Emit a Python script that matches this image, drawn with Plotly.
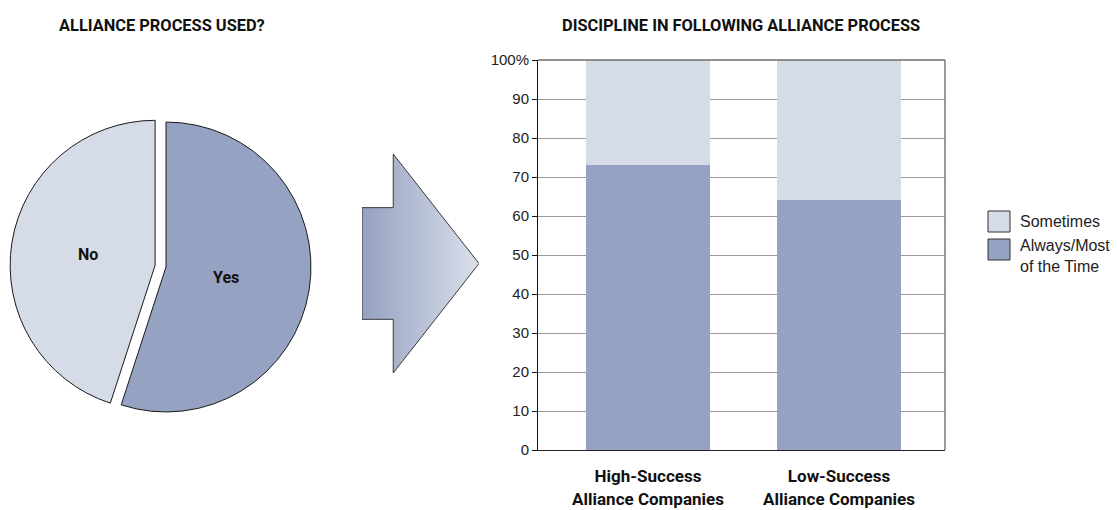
import plotly.graph_objects as go

# --- data -------------------------------------------------------------
pie_labels = ["Yes", "No"]
pie_values = [55, 45]

groups = ["High-Success<br>Alliance Companies", "Low-Success<br>Alliance Companies"]
always_most = [73, 64]
sometimes = [27, 36]

y_ticks = [0, 10, 20, 30, 40, 50, 60, 70, 80, 90, 100]
y_tick_text = ["0", "10", "20", "30", "40", "50", "60", "70", "80", "90", "100%"]

# arrow outline in its own unit box (x right, y down)
arrow_x = [0, 0.267, 0.267, 1, 0.267, 0.267, 0, 0]
arrow_y = [0.245, 0.245, 0, 0.5, 1, 0.755, 0.755, 0.245]

# --- styling ----------------------------------------------------------
W, H = 1118, 510
DARK = "#96a2c2"
LIGHT = "#d5dbe7"
COND = "Roboto, Liberation Sans, sans-serif"
BODY = "Liberation Sans, Arial, sans-serif"


def px_x(v):
    return v / W


def px_y(v):
    return 1 - v / H


fig = go.Figure()

# pie: alliance process used?
fig.add_trace(go.Pie(
    labels=pie_labels,
    values=pie_values,
    sort=False,
    direction="clockwise",
    rotation=0,
    pull=[0, 0.076],
    marker=dict(colors=[DARK, LIGHT], line=dict(color="#1a1a1a", width=1)),
    textinfo="none",
    domain=dict(x=[px_x(10), px_x(322)], y=[px_y(424), px_y(110)]),
    showlegend=False,
    hoverinfo="label+percent",
))

# slice names, set inside each wedge
label_pos = {"Yes": (226, 277), "No": (88, 254)}
for name in pie_labels:
    lx, ly = label_pos[name]
    fig.add_annotation(xref="paper", yref="paper", x=px_x(lx), y=px_y(ly),
                       xanchor="center", yanchor="middle", showarrow=False,
                       text=name,
                       font=dict(family=COND, size=16, color="#111111", weight="bold"))

# stacked bars: discipline in following the process
fig.add_trace(go.Bar(
    x=[0, 1], y=always_most, name="Always/Most of the Time",
    marker=dict(color=DARK, line=dict(width=0)), width=0.65,
    showlegend=False,
))
fig.add_trace(go.Bar(
    x=[0, 1], y=sometimes, name="Sometimes",
    marker=dict(color=LIGHT, line=dict(width=0)), width=0.65,
    showlegend=False,
))

# gradient arrow between the two panels
fig.add_trace(go.Scatter(
    x=arrow_x, y=arrow_y, mode="lines", fill="toself",
    fillgradient=dict(type="horizontal",
                      colorscale=[[0, "#95a1c1"], [1, "#dadfea"]]),
    line=dict(color="#3a3a3a", width=1),
    xaxis="x2", yaxis="y2", showlegend=False, hoverinfo="skip",
))

fig.update_layout(
    width=W, height=H, autosize=False,
    margin=dict(l=0, r=0, t=0, b=0, pad=0, autoexpand=False),
    paper_bgcolor="white", plot_bgcolor="white",
    barmode="stack",
    xaxis=dict(
        domain=[px_x(538), px_x(945)],
        range=[-0.576, 1.555],
        tickvals=[0, 1], ticktext=groups,
        tickfont=dict(family=COND, size=17, color="#111111", weight="bold"),
        showline=True, linecolor="#222222", linewidth=1,
        showgrid=False, zeroline=False, ticks="",
        ticklabelstandoff=11, automargin=False,
        fixedrange=True,
    ),
    yaxis=dict(
        domain=[px_y(450), px_y(60)],
        range=[0, 100],
        tickvals=y_ticks, ticktext=y_tick_text,
        tickfont=dict(family=BODY, size=15, color="#222222"),
        showline=True, linecolor="#111111", linewidth=1,
        ticks="outside", ticklen=5, tickcolor="#111111",
        showgrid=True, gridcolor="#9a9a9a", gridwidth=1,
        zeroline=False, fixedrange=True, automargin=False,
    ),
    xaxis2=dict(domain=[px_x(362), px_x(479)], range=[0, 1],
                visible=False, fixedrange=True),
    yaxis2=dict(domain=[px_y(373), px_y(154)], range=[1, 0],
                visible=False, fixedrange=True),
)

# frame on the top and right sides of the bar panel
fig.add_shape(type="line", xref="x domain", yref="y domain",
              x0=0, x1=1, y0=1, y1=1, line=dict(color="#6e6e6e", width=1.5),
              layer="above")
fig.add_shape(type="line", xref="x domain", yref="y domain",
              x0=1, x1=1, y0=0, y1=1, line=dict(color="#7a7a7a", width=1.5),
              layer="above")

# legend swatches and labels
legend_items = [("Sometimes", LIGHT, 211, 232, 221),
                ("Always/Most<br>of the Time", DARK, 239, 260, 256)]
for text, color, top, bottom, ty in legend_items:
    fig.add_shape(type="rect", xref="paper", yref="paper",
                  x0=px_x(988), x1=px_x(1010), y0=px_y(bottom), y1=px_y(top),
                  fillcolor=color, line=dict(color="#333333", width=1))
    fig.add_annotation(xref="paper", yref="paper", x=px_x(1018), y=px_y(ty),
                       xanchor="left", yanchor="middle", align="left",
                       text=text, showarrow=False,
                       font=dict(family=BODY, size=16, color="#222222"))

# panel titles
fig.add_annotation(xref="paper", yref="paper", x=px_x(57), y=px_y(25),
                   xanchor="left", yanchor="middle", showarrow=False,
                   text="ALLIANCE PROCESS USED?",
                   font=dict(family=COND, size=16.4, color="#111111", weight="bold"))
fig.add_annotation(xref="paper", yref="paper", x=px_x(560), y=px_y(25),
                   xanchor="left", yanchor="middle", showarrow=False,
                   text="DISCIPLINE IN FOLLOWING ALLIANCE PROCESS",
                   font=dict(family=COND, size=16.4, color="#111111", weight="bold"))

fig.write_html("out.html")
